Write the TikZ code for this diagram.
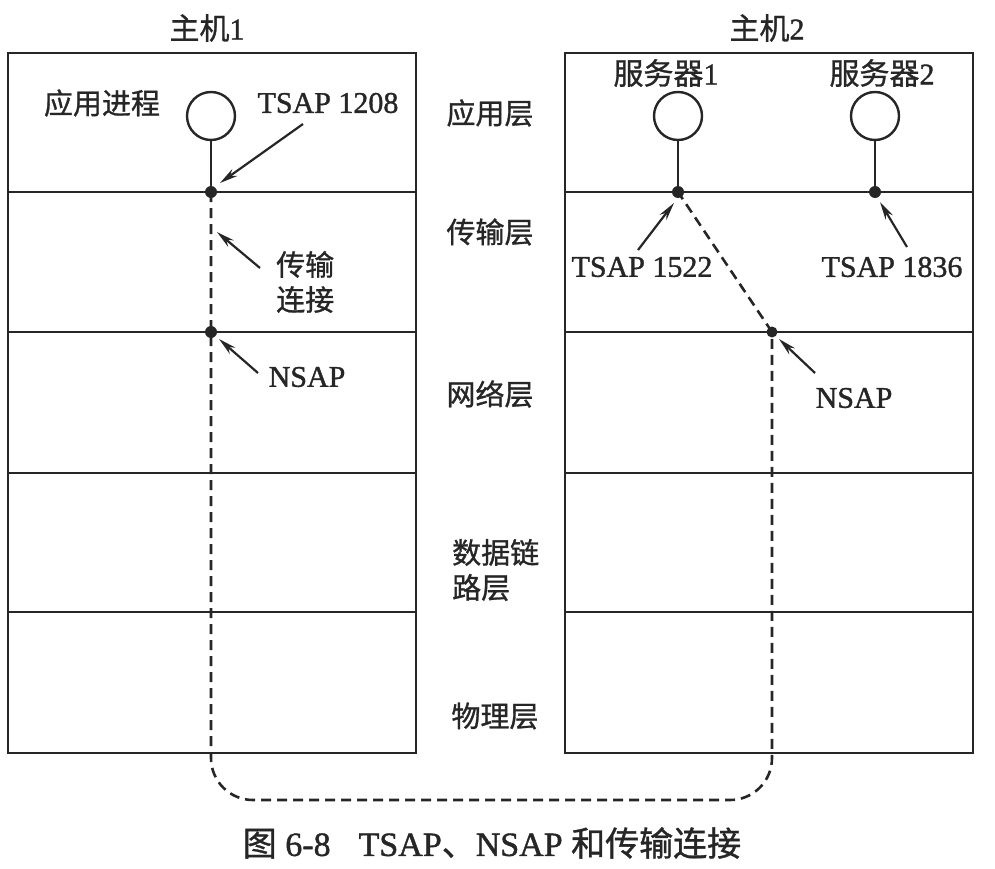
\documentclass[tikz,border=0pt]{standalone}
\usepackage{fontspec}
\setmainfont{Liberation Serif}[FakeBold=1.2, AutoFakeBold=1.2]
\newfontfamily\zh{Noto Sans CJK SC}[FakeBold=1.0, AutoFakeBold=1.0]
\usetikzlibrary{arrows.meta}

\begin{document}
\begin{tikzpicture}[x=1pt,y=-1pt,
  frame/.style={line width=2.8pt, color=black!85},
  conn/.style={line width=2.6pt, color=black!85, dash pattern=on 10pt off 6pt},
  stem/.style={line width=2.4pt, color=black!85},
  pointer/.style={-{Stealth[length=18pt,width=8.5pt]}, line width=2.2pt, color=black!85},
  sap/.style={circle, fill=black!85, inner sep=0pt, minimum size=12pt},
  proc/.style={circle, draw=black!85, line width=2.4pt, minimum size=48pt, inner sep=0pt},
  zhlbl/.style={font=\zh\bfseries\fontsize{29}{35}\selectfont, text=black!85, inner sep=0pt},
  enlbl/.style={font=\bfseries\fontsize{30}{34}\selectfont, text=black!85, inner sep=0pt},
]
\useasboundingbox (0,0) rectangle (995,869);

% two host stacks, five layers each
\foreach \xa/\xb in {8/416, 565/973}{
  \draw[frame] (\xa,53) rectangle (\xb,753);
  \foreach \yy in {192,332,473,612}
    \draw[frame] (\xa,\yy) -- (\xb,\yy);
}

% host titles
\node[enlbl] (h1) at (207,28) {{\zh 主机}1};
\node[enlbl] (h2) at (767,28) {{\zh 主机}2};

% layer names between the stacks
\node[zhlbl] (lapp) at (490,113) {应用层};
\node[zhlbl] (ltra) at (490,232) {传输层};
\node[zhlbl] (lnet) at (490,394) {网络层};
\node[zhlbl, align=left, anchor=west] (llnk) at (452,570) {数据链\\路层};
\node[zhlbl] (lphy) at (495,716) {物理层};

% processes
\node[proc] (p1) at (211,116) {};
\node[proc] (p2) at (678,116) {};
\node[proc] (p3) at (875,116) {};
\node[zhlbl] (p1l) at (102,103) {应用进程};
\node[enlbl] (p2l) at (666,73) {{\zh 服务器}1};
\node[enlbl] (p3l) at (882,73) {{\zh 服务器}2};

% access points
\node[sap] (t1) at (211,192) {};
\node[sap] (t2) at (678,192) {};
\node[sap] (t3) at (875,192) {};
\node[sap] (n1) at (211,332) {};
\node[sap, minimum size=11pt] (n2) at (772,332) {};

\draw[stem] (p1.south) -- (t1.center);
\draw[stem] (p2.south) -- (t2.center);
\draw[stem] (p3.south) -- (t3.center);

% transport connection
\draw[conn, rounded corners=42pt] (t1.center) -- (n1.center) -- (211,800) -- (772,800) -- (n2.center);
\draw[conn] (n2.center) -- (t2.center);

% annotations
\node[enlbl] (a1) at (328,103) {TSAP 1208};
\coordinate (a1s) at (303,124);
\draw[pointer] (a1s) -- (220,183);

\node[zhlbl, align=left, anchor=west] (a2) at (276,282) {传输\\连接};
\coordinate (a2s) at (260,268);
\draw[pointer] (a2s) -- (217,232);

\node[enlbl] (a3) at (307,377) {NSAP};
\coordinate (a3s) at (258,373);
\draw[pointer] (a3s) -- (219,339);

\node[enlbl] (a4) at (642,267) {TSAP 1522};
\coordinate (a4s) at (638,250);
\draw[pointer] (a4s) -- (674,203);

\node[enlbl] (a5) at (892,267) {TSAP 1836};
\coordinate (a5s) at (907,247);
\draw[pointer] (a5s) -- (880,202);

\node[enlbl] (a6) at (854,398) {NSAP};
\coordinate (a6s) at (815,373);
\draw[pointer] (a6s) -- (779,339);

% caption
\node[enlbl, font=\bfseries\fontsize{34}{38}\selectfont] (cap) at (492,843)
  {{\zh 图} 6-8\hspace{28pt}TSAP{\zh 、}NSAP {\zh 和传输连接}};
\end{tikzpicture}
\end{document}
